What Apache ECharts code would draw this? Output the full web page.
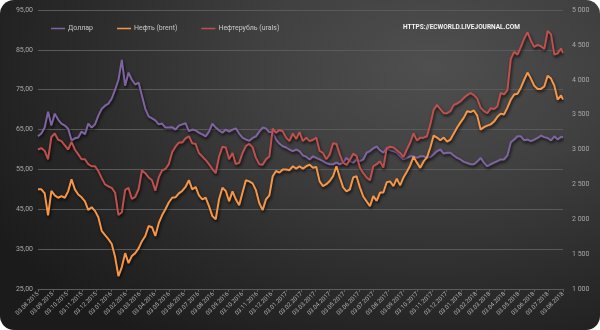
<!DOCTYPE html>
<html>
<head>
<meta charset="utf-8">
<script src="https://cdn.jsdelivr.net/npm/echarts@6/dist/echarts.min.js"></script>
<style>
  html, body { margin: 0; padding: 0; background: #ffffff; }
  #chart {
    width: 600px; height: 330px; border-radius: 14px; overflow: hidden;
    background: radial-gradient(ellipse 85% 100% at 72% 20%, #4f4f4f 0%, #404040 35%, #2a2a2a 70%, #1b1b1b 100%);
  }
</style>
</head>
<body>
<div id="chart"></div>
<script>
// Weekly observations starting Monday 03.08.2015, plus the closing point on 03.08.2018
const firstWeek = [2015, 7, 3];
const closingDay = [2018, 7, 3];
const axisStart = [2015, 7, 3];
const axisEnd = [2018, 7, 3];

const seriesNames = ['Доллар', 'Нефть (brent)', 'Нефтерубль (urals)'];

// USD/RUB, roubles
const dollar = [
  63.3, 64, 65.5, 69.5, 66, 69, 67.5, 66.5, 66, 65.2,
  62.3, 62.8, 63, 64.5, 63.8, 66.5, 65.5, 66.3, 68.5, 70.2,
  71, 71.5, 72.8, 75, 77.5, 82.5, 76, 79.3, 77.5, 76.3,
  76.8, 73.5, 70.2, 68.3, 67.8, 67.3, 66.3, 66.5, 65.5, 65.5,
  65.6, 65, 66, 66.3, 66.6, 64.6, 65, 64.8, 64.2, 63.8,
  63.3, 64.5, 66.5, 65.5, 64.8, 64.2, 65, 64.5, 65, 65.3,
  64, 63, 62.5, 62.2, 62.9, 63.3, 64.5, 65.5, 65.3, 64.3,
  64.5, 62.5, 61.5, 60.8, 60.5, 60, 59.6, 60, 59.6, 58.5,
  58.2, 57.5, 58.3, 57.9, 57.5, 57.1, 56.6, 56.3, 56.3, 56.7,
  56.3, 56.7, 57.9, 57.1, 56.7, 57.5, 57.1, 57.5, 59.2, 59.6,
  60.3, 60.8, 59.8, 59.2, 60.3, 59.8, 59.6, 59.2, 58.3, 57.5,
  57.9, 58.3, 58.3, 57.9, 58.3, 58.3, 57.9, 58.1, 58.8, 59.6,
  60, 59, 59.2, 59.2, 58.5, 57.9, 57.5, 56.9, 56.6, 56.3,
  56.3, 57, 57.9, 56.7, 55.8, 56.3, 56.7, 57.1, 57.5, 57.5,
  58.5, 61.8, 62.5, 63.3, 63.3, 62.3, 62.5, 62.1, 62.5, 62.9,
  63.5, 63.1, 62.9, 62.3, 63.3, 62.5, 63.2,
  63
];

// Brent, USD per barrel
const brent = [
  50, 50, 49, 43.5, 49.6, 48.5, 47.9, 48.3, 47.9, 49.5,
  52.5, 50, 48.7, 48, 47, 44.8, 45.5, 44.6, 43, 39.6,
  38.5, 37.5, 36.3, 33, 28.2, 30.5, 34, 31.5, 33.3, 34,
  35.2, 37, 38.3, 40.8, 40.5, 38.3, 41.5, 43.5, 45, 46.7,
  47.9, 48, 49, 49.6, 50.6, 52.3, 50, 50.6, 48.5, 47.5,
  47.9, 45.8, 43.3, 42.5, 47.5, 50.4, 49.6, 47, 49.5, 47.5,
  46, 49.2, 52.3, 52, 51.5, 49.8, 46.5, 44.8, 47.5, 48.5,
  53.3, 54.6, 54.2, 55, 55, 54.8, 55.8, 55.2, 55.8, 55.2,
  55.8, 56.2, 55.4, 55.6, 52, 50.8, 51.3, 52.1, 53.3, 55.8,
  53, 50.5, 49.5, 50, 53, 53.3, 50.5, 48.2, 47, 45.8,
  48.3, 47.1, 49.2, 49.2, 51.8, 52, 50.8, 52.7, 51, 53,
  54.4, 56, 58.2, 56.7, 55.4, 57, 58, 60.5, 63.5, 63,
  62.3, 63, 62, 62.5, 64, 65.5, 66.8, 68, 69.6, 69.4,
  69.8, 68.5, 65, 65.6, 66, 66.3, 67, 68.2, 69, 68.8,
  70.5, 72.5, 73.8, 74, 75.5, 77.5, 79.3, 77.8, 76, 75.2,
  75.2, 75.8, 78.5, 77.8, 76, 72.5, 73.6,
  72.5
];

// Urals priced in roubles per barrel
const oilRouble = [
  3000, 3020, 2980, 2860, 3180, 3230, 3140, 3120, 3060, 3000,
  3110, 3000, 2930, 2860, 2860, 2790, 2760, 2760, 2690, 2590,
  2500, 2470, 2450, 2380, 2060, 2100, 2420, 2450, 2290, 2320,
  2430, 2700, 2660, 2600, 2560, 2410, 2600, 2700, 2720, 2790,
  2960, 3040, 3100, 3100, 3160, 3190, 3090, 3080, 2950, 2900,
  2850, 2790, 2720, 2660, 2900, 3040, 3030, 2860, 2950, 2790,
  2810, 2950, 3050, 3080, 3030, 2880, 2790, 2780, 2860, 2900,
  3300, 3240, 3280, 3260, 3170, 3120, 3230, 3150, 3250, 3120,
  3170, 3120, 3140, 3170, 2980, 2950, 2860, 2930, 3090, 3080,
  2930, 2810, 2780, 2850, 2940, 2910, 2740, 2660, 2600, 2560,
  2760, 2790, 2830, 2740, 3020, 3040, 3030, 2990, 2950, 2890,
  3000, 3100, 3230, 3130, 3170, 3170, 3190, 3360, 3570, 3640,
  3580, 3520, 3520, 3550, 3640, 3660, 3690, 3740, 3780, 3810,
  3780, 3730, 3600, 3550, 3520, 3590, 3580, 3620, 3810, 3790,
  3850, 4300, 4400, 4360, 4470, 4590, 4680, 4560, 4470, 4500,
  4480, 4440, 4700, 4650, 4360, 4380, 4450,
  4380
];

// Observation dates: one per week, then the closing day
const dates = [];
for (let i = 0; i < dollar.length - 1; i++) {
  dates.push(new Date(firstWeek[0], firstWeek[1], firstWeek[2] + 7 * i).getTime());
}
dates.push(new Date(closingDay[0], closingDay[1], closingDay[2]).getTime());

// Monthly axis marks on the 3rd of every month
const monthMarks = [];
for (let m = 0; m <= 36; m++) {
  monthMarks.push(new Date(axisStart[0], axisStart[1] + m, axisStart[2]).getTime());
}

const pair = (vals) => vals.map((v, i) => [dates[i], v]);
const pad = (n) => (n < 10 ? '0' : '') + n;
const fmtDate = (t) => { const d = new Date(t); return pad(d.getDate()) + '.' + pad(d.getMonth() + 1) + '.' + d.getFullYear(); };
const fmtLeft = (v) => v.toFixed(2).replace('.', ',');
const fmtRight = (v) => String(v).replace(/\B(?=(\d{3})+(?!\d))/g, ' ');

const colors = ['#8064A2', '#F79646', '#C0504D'];
const lineShadow = { shadowColor: 'rgba(0,0,0,0.75)', shadowBlur: 3, shadowOffsetX: 1, shadowOffsetY: 2 };
const labelFont = 'Roboto, "Open Sans", sans-serif';

const chart = echarts.init(document.getElementById('chart'), null, { renderer: 'canvas' });
chart.setOption({
  backgroundColor: 'transparent',
  animation: false,
  color: colors,
  textStyle: { fontFamily: labelFont },
  grid: { left: 38, right: 37, top: 10, bottom: 41 },
  legend: {
    left: 46, top: 20,
    icon: 'rect', itemWidth: 14, itemHeight: 1.5, itemGap: 24,
    textStyle: { color: '#c8c8c8', fontSize: 7, fontFamily: labelFont, padding: [0, 0, 0, -2] },
    data: seriesNames
  },
  graphic: [{
    type: 'text', left: 403, top: 24,
    style: { text: 'HTTPS://ECWORLD.LIVEJOURNAL.COM', fill: '#f2f2f2', font: 'bold 6.5px ' + labelFont }
  }],
  xAxis: {
    type: 'value',
    min: new Date(axisStart[0], axisStart[1], axisStart[2]).getTime(),
    max: new Date(axisEnd[0], axisEnd[1], axisEnd[2]).getTime(),
    axisLine: { onZero: false, lineStyle: { color: '#5c5c5c', width: 1 } },
    axisTick: { show: true, customValues: monthMarks, length: 3, lineStyle: { color: '#5c5c5c' } },
    axisLabel: {
      customValues: monthMarks, rotate: 45, fontSize: 6, color: '#b4b4b4', margin: 4,
      formatter: (v) => fmtDate(v), hideOverlap: false
    },
    splitLine: { show: false }
  },
  yAxis: [{
    type: 'value', min: 25, max: 95, interval: 10,
    axisLine: { show: false }, axisTick: { show: false },
    axisLabel: { formatter: fmtLeft, fontSize: 7, color: '#a8a8a8', margin: 5 },
    splitLine: { lineStyle: { color: '#5a5a5a', width: 1 } }
  }, {
    type: 'value', min: 1000, max: 5000, interval: 500,
    axisLine: { show: false }, axisTick: { show: false },
    axisLabel: { formatter: fmtRight, fontSize: 7, color: '#a8a8a8', margin: 9 },
    splitLine: { show: false }
  }],
  series: [{
    name: seriesNames[0], type: 'line', yAxisIndex: 0, data: pair(dollar),
    showSymbol: false, lineStyle: Object.assign({ width: 2, color: colors[0] }, lineShadow)
  }, {
    name: seriesNames[1], type: 'line', yAxisIndex: 0, data: pair(brent),
    showSymbol: false, lineStyle: Object.assign({ width: 2, color: colors[1] }, lineShadow)
  }, {
    name: seriesNames[2], type: 'line', yAxisIndex: 1, data: pair(oilRouble),
    showSymbol: false, lineStyle: Object.assign({ width: 2, color: colors[2] }, lineShadow)
  }]
});
</script>
</body>
</html>
